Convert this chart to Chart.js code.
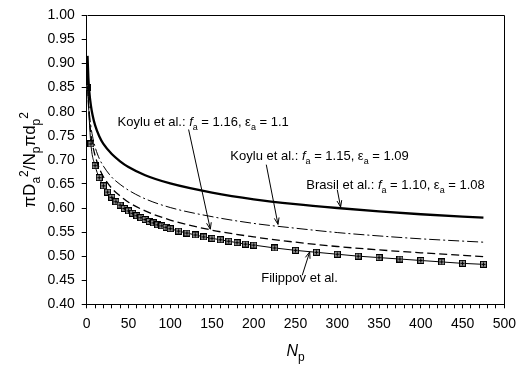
<!DOCTYPE html>
<html>
<head>
<meta charset="utf-8">
<script src="https://cdn.jsdelivr.net/npm/chart.js@4.4.1/dist/chart.umd.min.js"></script>
<style>
  body { margin: 0; background: #fff; }
  #wrap { width: 523px; height: 367px; }
</style>
</head>
<body>
<div id="wrap"><canvas id="areaChart" width="523" height="367"></canvas></div>
<script>
// Np sample points for the three correlation curves
const npLine = [1, 2, 3, 5, 7, 10, 15, 20, 30, 40, 50, 70, 100, 150, 200, 250, 300, 350, 400, 475];
// Brasil et al.: fa = 1.10, ea = 1.08
const brasil = [0.916, 0.870, 0.844, 0.813, 0.793, 0.772, 0.749, 0.733, 0.712, 0.697, 0.685, 0.668, 0.651, 0.632, 0.618, 0.608, 0.600, 0.593, 0.587, 0.580];
// Koylu et al.: fa = 1.15, ea = 1.09
const koylu115 = [0.880, 0.831, 0.803, 0.770, 0.749, 0.727, 0.703, 0.687, 0.664, 0.649, 0.637, 0.619, 0.601, 0.582, 0.568, 0.558, 0.549, 0.542, 0.536, 0.529];
// Koylu et al.: fa = 1.16, ea = 1.1
const koylu116 = [0.874, 0.820, 0.791, 0.755, 0.732, 0.709, 0.683, 0.665, 0.641, 0.625, 0.612, 0.594, 0.575, 0.554, 0.540, 0.529, 0.520, 0.513, 0.507, 0.499];

// Filippov et al. (with markers)
const npFilippov = [1, 5, 10, 15, 20, 25, 30, 35, 40, 45, 50, 55, 60, 65, 70, 75, 80, 85, 90, 95, 100,
  110, 120, 130, 140, 150, 160, 170, 180, 190, 200, 225, 250, 275, 300, 325, 350, 375, 400, 425, 450, 475];
const filippov = [0.850, 0.733, 0.688, 0.663, 0.646, 0.633, 0.622, 0.613, 0.606, 0.599, 0.594, 0.589, 0.584, 0.580, 0.576, 0.572, 0.569, 0.565, 0.563, 0.560, 0.557,
  0.552, 0.548, 0.544, 0.540, 0.537, 0.534, 0.531, 0.528, 0.525, 0.523, 0.517, 0.512, 0.508, 0.504, 0.500, 0.497, 0.494, 0.491, 0.488, 0.485, 0.483];

const FONT = '"Liberation Sans", Arial, Helvetica, sans-serif';

const pts = (xs, ys) => xs.map((x, i) => ({ x: x, y: ys[i] }));

// square marker with a cross inside
const marker = (function() {
  const c = document.createElement('canvas');
  c.width = 7; c.height = 7;
  const g = c.getContext('2d');
  g.fillStyle = '#8a8a8a';
  g.fillRect(0, 0, 7, 7);
  g.strokeStyle = '#000';
  g.lineWidth = 1;
  g.strokeRect(0.5, 0.5, 6, 6);
  g.beginPath();
  g.moveTo(3.5, 1.5); g.lineTo(3.5, 5.5);
  g.moveTo(1.5, 3.5); g.lineTo(5.5, 3.5);
  g.stroke();
  return c;
})();

// text pieces with italic / subscript / superscript
const fontFor = (p, size) => (p.italic ? 'italic ' : '') + ((p.sub || p.sup) ? Math.round(size * 0.72) : size) + 'px ' + FONT;
const drawRich = (ctx, x, y, parts, size, align) => {
  let w = 0;
  parts.forEach(p => { ctx.font = fontFor(p, size); p.w = ctx.measureText(p.t).width; w += p.w; });
  let cx = align === 'center' ? x - w / 2 : x;
  parts.forEach(p => {
    ctx.font = fontFor(p, size);
    const dy = p.sub ? size * 0.3 : (p.sup ? -size * 0.42 : 0);
    ctx.fillText(p.t, cx, y + dy);
    cx += p.w;
  });
};

const labelParts = (fa, ea) => [
  { t: ' ' }, { t: 'f', italic: true }, { t: 'a', sub: true },
  { t: ' = ' + fa + ', ε' }, { t: 'a', sub: true }, { t: ' = ' + ea }
];

// curve labels (x, y in data units, left/baseline) and arrows (from -> to, data units)
const notes = [
  { x: 37, y: 0.771, parts: [{ t: 'Koylu et al.:' }].concat(labelParts('1.16', '1.1')), from: [122, 0.763], to: [148, 0.556] },
  { x: 172, y: 0.700, parts: [{ t: 'Koylu et al.:' }].concat(labelParts('1.15', '1.09')), from: [215, 0.690], to: [229, 0.566] },
  { x: 263, y: 0.640, parts: [{ t: 'Brasil et al.:' }].concat(labelParts('1.10', '1.08')), from: [300, 0.638], to: [304, 0.602] },
  { x: 209, y: 0.447, parts: [{ t: 'Filippov et al.' }], from: [258, 0.460], to: [267, 0.509] }
];

const decorations = {
  id: 'decorations',
  afterDraw(chart) {
    const ctx = chart.ctx;
    const xs = chart.scales.x, ys = chart.scales.y;
    const a = chart.chartArea;
    ctx.save();
    // top and right frame
    ctx.strokeStyle = '#000';
    ctx.lineWidth = 1;
    ctx.beginPath();
    ctx.moveTo(Math.round(a.left) + 0.5, Math.round(a.top) + 0.5);
    ctx.lineTo(Math.round(a.right) + 0.5, Math.round(a.top) + 0.5);
    ctx.lineTo(Math.round(a.right) + 0.5, Math.round(a.bottom) + 0.5);
    ctx.stroke();

    ctx.fillStyle = '#000';
    ctx.textBaseline = 'alphabetic';

    // labels and arrows
    notes.forEach(n => {
      drawRich(ctx, xs.getPixelForValue(n.x), ys.getPixelForValue(n.y), n.parts, 13, 'left');
      const x0 = xs.getPixelForValue(n.from[0]), y0 = ys.getPixelForValue(n.from[1]);
      const x1 = xs.getPixelForValue(n.to[0]), y1 = ys.getPixelForValue(n.to[1]);
      ctx.beginPath();
      ctx.moveTo(x0, y0);
      ctx.lineTo(x1, y1);
      const ang = Math.atan2(y1 - y0, x1 - x0);
      const len = 7, spread = 0.35;
      ctx.moveTo(x1 - len * Math.cos(ang - spread), y1 - len * Math.sin(ang - spread));
      ctx.lineTo(x1, y1);
      ctx.lineTo(x1 - len * Math.cos(ang + spread), y1 - len * Math.sin(ang + spread));
      ctx.stroke();
    });

    // x axis title
    drawRich(ctx, (a.left + a.right) / 2, 356, [{ t: 'N', italic: true }, { t: 'p', sub: true }], 16, 'center');

    // y axis title, rotated
    ctx.translate(35, (a.top + a.bottom) / 2);
    ctx.rotate(-Math.PI / 2);
    drawRich(ctx, 0, 0, [
      { t: 'πD' }, { t: 'a', sub: true }, { t: '2', sup: true },
      { t: '/N' }, { t: 'p', sub: true }, { t: 'πd' }, { t: 'p', sub: true }, { t: '2', sup: true }
    ], 17, 'center');
    ctx.restore();
  }
};

new Chart(document.getElementById('areaChart'), {
  type: 'line',
  data: {
    datasets: [
      {
        label: 'Brasil et al.',
        data: pts(npLine, brasil),
        borderColor: '#000',
        borderWidth: 2.3,
        pointRadius: 0,
        cubicInterpolationMode: 'monotone'
      },
      {
        label: 'Koylu et al. 1.15',
        data: pts(npLine, koylu115),
        borderColor: '#000',
        borderWidth: 1,
        borderDash: [11, 3, 2, 3],
        pointRadius: 0,
        cubicInterpolationMode: 'monotone'
      },
      {
        label: 'Koylu et al. 1.16',
        data: pts(npLine, koylu116),
        borderColor: '#000',
        borderWidth: 1.3,
        borderDash: [8, 4],
        pointRadius: 0,
        cubicInterpolationMode: 'monotone'
      },
      {
        label: 'Filippov et al.',
        data: pts(npFilippov, filippov),
        borderColor: '#000',
        borderWidth: 1,
        pointStyle: marker,
        pointRadius: 3.5,
        cubicInterpolationMode: 'monotone'
      }
    ]
  },
  options: {
    responsive: false,
    animation: false,
    devicePixelRatio: 1,
    layout: { padding: { left: 0, top: 9, right: 14.3, bottom: 0 } },
    plugins: { legend: { display: false }, tooltip: { enabled: false } },
    scales: {
      x: {
        type: 'linear',
        min: 0,
        max: 500,
        afterFit(scale) { scale.height = 62.7; },
        grid: { drawOnChartArea: false, drawTicks: true, tickLength: 4, color: '#000' },
        border: { display: true, color: '#000', width: 1 },
        ticks: {
          stepSize: 10,
          autoSkip: false,
          maxRotation: 0,
          padding: 7,
          color: '#000',
          font: { family: FONT, size: 14 },
          callback: v => (v % 50 === 0 ? String(v) : '')
        }
      },
      y: {
        min: 0.4,
        max: 1.0,
        afterFit(scale) { scale.width = 86.7; },
        grid: { drawOnChartArea: false, drawTicks: true, tickLength: 5, color: '#000' },
        border: { display: true, color: '#000', width: 1 },
        ticks: {
          stepSize: 0.05,
          padding: 7,
          color: '#000',
          font: { family: FONT, size: 14 },
          callback: v => v.toFixed(2)
        }
      }
    }
  },
  plugins: [decorations]
});
</script>
</body>
</html>
